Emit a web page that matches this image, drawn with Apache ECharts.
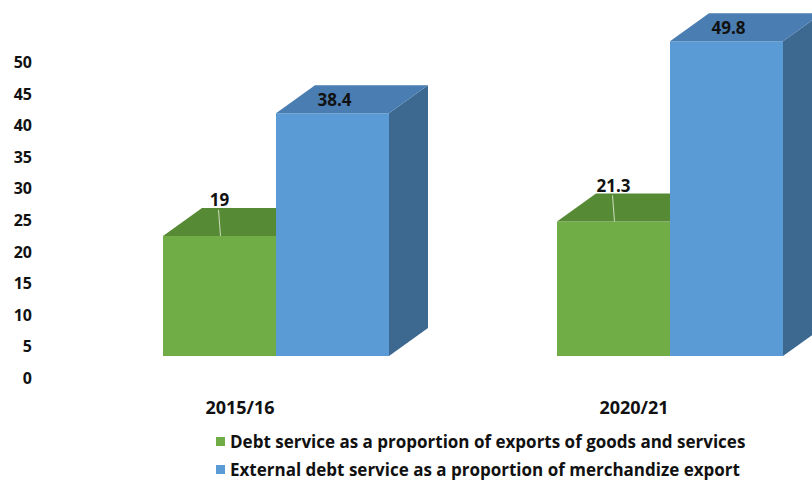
<!DOCTYPE html>
<html>
<head>
<meta charset="utf-8">
<script src="https://cdn.jsdelivr.net/npm/echarts@6/dist/echarts.min.js"></script>
<style>
  html, body { margin: 0; padding: 0; background: #ffffff; }
  #chart { width: 812px; height: 480px; }
</style>
</head>
<body>
<div id="chart"></div>
<script>
// Chart data
const categories = ['2015/16', '2020/21'];
const seriesNames = [
  'Debt service as a proportion of exports of goods and services',
  'External debt service as a proportion of merchandize export'
];
const debtServiceGoods = [19, 21.3];
const externalDebtMerch = [38.4, 49.8];
const yMin = 0, yMax = 50, yStep = 5;

// Styling for the pseudo-3D boxes
const FONT = '"Open Sans", sans-serif';
const DEPTH_X = 39, DEPTH_Y = -28;   // depth offset of the back face
const LIFT = 22;                      // front face floor sits above the axis zero
const BAR_FRACTION = 113 / 394;       // bar width relative to category band
const palettes = [
  { front: '#70ad47', top: '#578a34', side: '#4b7a2c' },
  { front: '#5b9bd5', top: '#4a7db2', side: '#3d6890' }
];

function makeRenderer(si) {
  return function (params, api) {
    const cat = api.value(0);
    const v = api.value(1);
    const band = api.size([1, 0])[0];
    const barW = band * BAR_FRACTION;
    const center = api.coord([cat, 0])[0];
    const x0 = si === 0 ? center - barW : center;
    const x1 = x0 + barW;
    const yBase = api.coord([cat, 0])[1] - LIFT;
    const yTop = api.coord([cat, v])[1] - LIFT;
    const p = palettes[si];
    const children = [
      {
        type: 'polygon',
        shape: { points: [[x1, yTop], [x1 + DEPTH_X, yTop + DEPTH_Y], [x1 + DEPTH_X, yBase + DEPTH_Y], [x1, yBase]] },
        style: { fill: p.side }
      },
      {
        type: 'rect',
        shape: { x: x0, y: yTop, width: barW, height: yBase - yTop },
        style: { fill: p.front }
      },
      {
        type: 'polygon',
        shape: { points: [[x0, yTop], [x0 + DEPTH_X, yTop + DEPTH_Y], [x1 + DEPTH_X, yTop + DEPTH_Y], [x1, yTop]] },
        style: { fill: p.top }
      }
    ];
    const lx = x0 + barW / 2;
    const labelFont = 'bold 17px ' + FONT;
    if (si === 0) {
      const ly = yTop + DEPTH_Y - 8;
      children.push({
        type: 'line',
        shape: { x1: lx - 1, y1: ly + 10, x2: lx + 1, y2: yTop },
        style: { stroke: 'rgba(225,235,215,0.85)', lineWidth: 1 }
      });
      children.push({
        type: 'text',
        style: { x: lx, y: ly, text: String(v), align: 'center', verticalAlign: 'middle',
                 font: labelFont, fill: '#111' }
      });
    } else {
      children.push({
        type: 'text',
        style: { x: lx + 2, y: yTop + DEPTH_Y / 2, text: String(v), align: 'center', verticalAlign: 'middle',
                 font: labelFont, fill: '#111' }
      });
    }
    return { type: 'group', children: children };
  };
}

const legendBase = {
  left: 211,
  itemWidth: 9, itemHeight: 9,
  icon: 'rect',
  textStyle: { fontFamily: FONT, fontWeight: 'bold', fontSize: 17, color: '#111' }
};

const chart = echarts.init(document.getElementById('chart'), null, { renderer: 'svg' });
chart.setOption({
  animation: false,
  backgroundColor: '#ffffff',
  grid: { left: 79, width: 788, top: 62, height: 316, outerBoundsMode: 'none', containLabel: false },
  xAxis: {
    type: 'category',
    data: categories,
    axisLine: { show: false },
    axisTick: { show: false },
    axisLabel: {
      margin: 20, padding: [0, 72, 0, 0],
      fontFamily: FONT, fontWeight: 'bold', fontSize: 18, color: '#111'
    }
  },
  yAxis: {
    type: 'value',
    min: yMin, max: yMax, interval: yStep,
    splitLine: { show: false },
    axisLine: { show: false },
    axisTick: { show: false },
    axisLabel: { margin: 47, fontFamily: FONT, fontWeight: 'bold', fontSize: 16, color: '#111' }
  },
  legend: [
    Object.assign({ top: 428, data: [seriesNames[0]] }, legendBase),
    Object.assign({ top: 456, data: [seriesNames[1]] }, legendBase)
  ],
  series: [
    {
      name: seriesNames[0], type: 'custom',
      itemStyle: { color: palettes[0].front },
      renderItem: makeRenderer(0),
      encode: { x: 0, y: 1 },
      data: debtServiceGoods.map((v, i) => [i, v])
    },
    {
      name: seriesNames[1], type: 'custom',
      itemStyle: { color: palettes[1].front },
      renderItem: makeRenderer(1),
      encode: { x: 0, y: 1 },
      data: externalDebtMerch.map((v, i) => [i, v])
    }
  ]
});
</script>
</body>
</html>
